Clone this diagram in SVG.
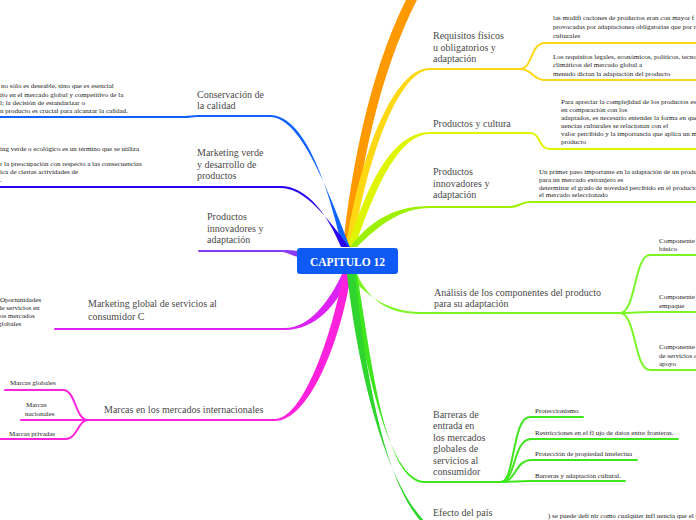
<svg xmlns="http://www.w3.org/2000/svg" width="696" height="520" viewBox="0 0 696 520">
<style>
.lbl{font-family:"Liberation Serif","Times New Roman",serif;font-size:10px;fill:#4a4a4a}
.sm{font-family:"Liberation Serif","Times New Roman",serif;font-size:7px;fill:#1a1a1a}
.ln{fill:none;stroke-width:2;stroke-linecap:round;stroke-linejoin:round}
.s-or{stroke:#ff9900}.f-or{fill:#ff9900}
.s-ye{stroke:#ffd814}.f-ye{fill:#ffd814}
.s-yg{stroke:#dff500}.f-yg{fill:#dff500}
.s-g1{stroke:#9cf000}.f-g1{fill:#9cf000}
.s-g2{stroke:#7cf526}.f-g2{fill:#7cf526}
.s-g3{stroke:#3fe61e}.f-g3{fill:#3fe61e}
.s-g4{stroke:#2fd42f}.f-g4{fill:#2fd42f}
.s-bl{stroke:#1062ff}.f-bl{fill:#1062ff}
.s-in{stroke:#2a00f0}.f-in{fill:#2a00f0}
.s-pu{stroke:#8a3cf5}.f-pu{fill:#8a3cf5}
.s-mg{stroke:#dd22f5}.f-mg{fill:#dd22f5}
.s-pk{stroke:#ff22dd}.f-pk{fill:#ff22dd}
.ctr{font-family:"Liberation Serif","Times New Roman",serif;font-size:11.5px;font-weight:bold;fill:#ffffff}
</style>
<rect width="696" height="520" fill="#ffffff"/>
<g id="connectors">
  <path class="f-or" d="M343,247 C351,170 370,68 410,-8 L419,-4 C379,72 360,170 352,247 Z"/>
  <path class="f-ye" d="M346,247 C359,160 392,68 430,68 L430,70 C398,70 366,162 353,247 Z"/>
  <path class="ln s-ye" d="M429,69 L520,69"/>
  <path class="ln s-ye" d="M520,69 C533,69 530,43 545,43 L696,43"/>
  <path class="ln s-ye" d="M520,69 C533,69 532,80 545,80 L696,80"/>
  <path class="f-yg" d="M348,247 C367,185 392,132 430,132 L430,134 C399,134 375,188 355,247 Z"/>
  <path class="ln s-yg" d="M429,133 L530,133 C541,133 538,149 550,149 L696,149"/>
  <path class="f-g1" d="M350,247 C372,218 398,206 430,206 L430,208 C402,208 380,224 357,247 Z"/>
  <path class="ln s-g1" d="M429,207 L510,207 C520,207 520,202 530,202 L696,202"/>
  <path class="f-bl" d="M342,247 C327,180 303,115 270,115 L270,117 C300,117 326,185 350,247 Z"/>
  <path class="ln s-bl" d="M0,117 L185,117 C190,117 192,116 197,116 L271,116"/>
  <path class="f-in" d="M341,247 C328,216 308,186 280,186 L280,188 C305,188 326,216 349,247 Z"/>
  <path class="ln s-in" d="M0,187 L281,187"/>
  <path class="ln s-pu" d="M199,251 L280,251"/>
  <path class="f-pu" d="M280,250 C288,250 292,250 298,251 L298,257 C290,255 287,252 280,252 Z"/>
  <path class="f-mg" d="M342,274 C330,300 310,328 285,328 L285,330 C315,330 338,305 350,274 Z"/>
  <path class="ln s-mg" d="M55,329 L286,329"/>
  <path class="f-pk" d="M343,274 C331,340 302,419 275,419 L275,421 C308,421 340,345 351,274 Z"/>
  <path class="ln s-pk" d="M88,420 L276,420"/>
  <path class="ln s-pk" d="M88,420 C75,420 76,390 63,390 L5,390"/>
  <path class="ln s-pk" d="M88,420 L21,420"/>
  <path class="ln s-pk" d="M88,420 C78,420 77,439 66,439 L0,439"/>
  <path class="f-g2" d="M349,274 C365,296 390,312 420,312 L420,314 C388,314 369,300 357,274 Z"/>
  <path class="ln s-g2" d="M419,313 L620,313"/>
  <path class="ln s-g2" d="M620,313 C636,313 634,255 650,255 L696,255"/>
  <path class="ln s-g2" d="M620,313 C635,313 636,312 650,312 L696,312"/>
  <path class="ln s-g2" d="M620,313 C636,313 634,370 650,370 L696,370"/>
  <path class="f-g3" d="M349,274 C366,365 388,481 425,481 L425,483 C385,483 372,365 357,274 Z"/>
  <path class="ln s-g3" d="M424,482 L501,482"/>
  <path class="ln s-g3" d="M501,482 C515,482 512,417 530,417 L583,417"/>
  <path class="ln s-g3" d="M501,482 C516,482 513,439 531,439 L678,439"/>
  <path class="ln s-g3" d="M501,482 C517,482 514,460 532,460 L637,460"/>
  <path class="ln s-g3" d="M501,482 L530,481 L625,481"/>
  <path class="f-g4" d="M347,274 C364,420 406,536 456,538 L456,540 C400,540 370,420 355,274 Z"/>
</g>
<g id="central">
  <rect x="297" y="248" width="101" height="26" rx="3" fill="#0f5af5"/>
  <text class="ctr" x="347.5" y="266" text-anchor="middle">CAPITULO 12</text>
</g>
<g id="requisitos">
  <text class="lbl" x="433" y="39">Requisitos físicos</text>
  <text class="lbl" x="433" y="50.7">u obligatorios y</text>
  <text class="lbl" x="433" y="62.4">adaptación</text>
</g>
<g id="requisitos-1">
  <text class="sm" x="553" y="20">las modifi caciones de productos eran con mayor f</text>
  <text class="sm" x="553" y="29">provocadas por adaptacionea obligatorias que por r</text>
  <text class="sm" x="553" y="38">culturales</text>
</g>
<g id="requisitos-2">
  <text class="sm" x="553" y="58.5">Los requisitos legales, económicos, políticos, tecno</text>
  <text class="sm" x="553" y="67">climáticos del mercado global a</text>
  <text class="sm" x="553" y="75.5">menudo dictan la adaptación del producto</text>
</g>
<g id="cultura">
  <text class="lbl" x="433" y="126.5">Productos y cultura</text>
</g>
<g id="cultura-1">
  <text class="sm" x="561" y="103.5">Para apreciar la complejidad de los productos es</text>
  <text class="sm" x="561" y="111.5">en comparación con los</text>
  <text class="sm" x="561" y="119.7">adaptados, es necesario entender la forma en que</text>
  <text class="sm" x="561" y="127.8">uencias culturales se relacionan con el</text>
  <text class="sm" x="561" y="136">valor percibido y la importancia que aplica un m</text>
  <text class="sm" x="561" y="144.2">producto</text>
</g>
<g id="innovadores-r">
  <text class="lbl" x="433" y="175">Productos</text>
  <text class="lbl" x="433" y="186.7">innovadores y</text>
  <text class="lbl" x="433" y="198.4">adaptación</text>
</g>
<g id="innovadores-r-1">
  <text class="sm" x="539" y="173.5">Un primer paso importante en la adaptación de un produ</text>
  <text class="sm" x="539" y="181.5">para un mercado extranjero es</text>
  <text class="sm" x="539" y="189.5">determinar el grado de novedad percibido en el producto</text>
  <text class="sm" x="539" y="197.3">el mercado seleccionado</text>
</g>
<g id="analisis">
  <text class="lbl" x="434" y="295.5">Análisis de los componentes del producto</text>
  <text class="lbl" x="434" y="307.2">para su adaptación</text>
</g>
<g id="comp-basico">
  <text class="sm" x="659" y="242.5">Componente</text>
  <text class="sm" x="659" y="251">básico</text>
</g>
<g id="comp-empaque">
  <text class="sm" x="659" y="299">Componente</text>
  <text class="sm" x="659" y="307.5">empaque</text>
</g>
<g id="comp-servicios">
  <text class="sm" x="659" y="349">Componente</text>
  <text class="sm" x="659" y="357.5">de servicios d</text>
  <text class="sm" x="659" y="365.5">apoyo</text>
</g>
<g id="barreras">
  <text class="lbl" x="433" y="417.5">Barreras de</text>
  <text class="lbl" x="433" y="429">entrada en</text>
  <text class="lbl" x="433" y="440.5">los mercados</text>
  <text class="lbl" x="433" y="452">globales de</text>
  <text class="lbl" x="433" y="463.5">servicios al</text>
  <text class="lbl" x="433" y="475">consumidor</text>
</g>
<g id="barreras-1"><text class="sm" x="535" y="412.5">Proteccionismo</text></g>
<g id="barreras-2"><text class="sm" x="535" y="435">Restricciones en el fl ujo de datos entre fronteras.</text></g>
<g id="barreras-3"><text class="sm" x="535" y="455.5">Protección de propiedad intelectua</text></g>
<g id="barreras-4"><text class="sm" x="535" y="477.5">Barreras y adaptación cultural.</text></g>
<g id="efecto">
  <text class="lbl" x="433" y="515.5">Efecto del país</text>
</g>
<g id="efecto-1">
  <text class="sm" x="548" y="518">) se puede defi nir como cualquier infl uencia que el p</text>
</g>
<g id="conservacion">
  <text class="lbl" x="197" y="97.5">Conservación de</text>
  <text class="lbl" x="197" y="109">la calidad</text>
</g>
<g id="conservacion-1">
  <text class="sm" x="1" y="88">no sólo es deseable, sino que es esencial</text>
  <text class="sm" x="0" y="96.5">ito en el mercado global y competitivo de la</text>
  <text class="sm" x="0" y="105">l; la decisión de estandarizar o</text>
  <text class="sm" x="0" y="113">n producto es crucial para alcanzar la calidad.</text>
</g>
<g id="verde">
  <text class="lbl" x="197" y="156">Marketing verde</text>
  <text class="lbl" x="197" y="167.5">y desarrollo de</text>
  <text class="lbl" x="197" y="179">productos</text>
</g>
<g id="verde-1">
  <text class="sm" x="0" y="151">ing verde o ecológico es un término que se utiliza</text>
  <text class="sm" x="0" y="166">r la preocupación con respecto a las consecuencias</text>
  <text class="sm" x="0" y="174">ica de ciertas actividades de</text>
  <text class="sm" x="0" y="181.5">.</text>
</g>
<g id="innovadores-l">
  <text class="lbl" x="207" y="220">Productos</text>
  <text class="lbl" x="207" y="231.7">innovadores y</text>
  <text class="lbl" x="207" y="243.4">adaptación</text>
</g>
<g id="global">
  <text class="lbl" x="88" y="307">Marketing global de servicios al</text>
  <text class="lbl" x="88" y="319.5">consumidor C</text>
</g>
<g id="global-1">
  <text class="sm" x="0" y="302">Oportunidades</text>
  <text class="sm" x="-2" y="310">de servicios en</text>
  <text class="sm" x="0" y="318">os mercados</text>
  <text class="sm" x="-2" y="325.5">globales</text>
</g>
<g id="marcas">
  <text class="lbl" x="104" y="412.5">Marcas en los mercados internacionales</text>
</g>
<g id="marcas-globales"><text class="sm" x="10" y="385">Marcas globales</text></g>
<g id="marcas-nacionales">
  <text class="sm" x="26" y="407">Marcas</text>
  <text class="sm" x="25" y="415.5">nacionales</text>
</g>
<g id="marcas-privadas"><text class="sm" x="9" y="436">Marcas privadas</text></g>
</svg>
